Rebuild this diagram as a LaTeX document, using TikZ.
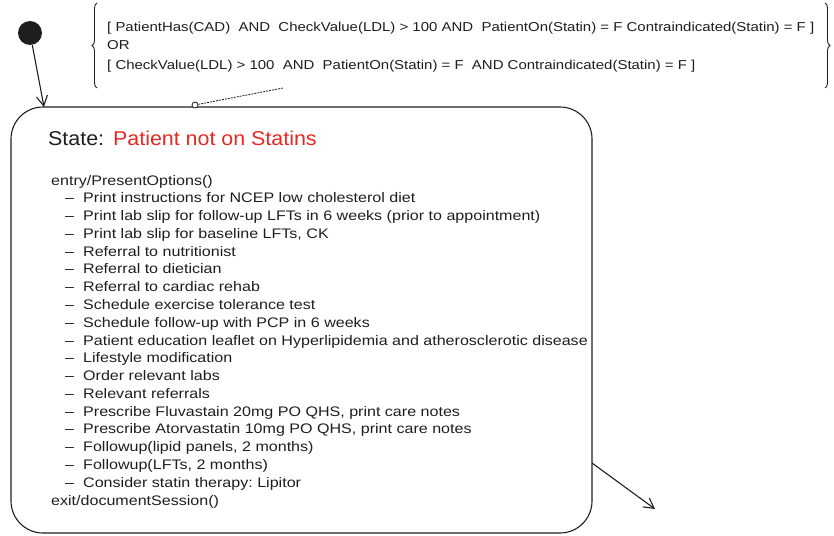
\documentclass[tikz,border=0pt]{standalone}
\usepackage{fontspec}
\setmainfont{Liberation Sans}
\newfontfamily\widefont[FakeStretch=1.16,Ligatures=TeX]{Liberation Sans}
\newfontfamily\titlefont[FakeStretch=1.07,Ligatures=TeX]{Liberation Sans}
\usetikzlibrary{arrows.meta,decorations.pathreplacing}
\definecolor{titlered}{RGB}{230,40,35}
\definecolor{ink}{RGB}{30,30,30}
\begin{document}
\frenchspacing
\begin{tikzpicture}[x=1pt,y=-1pt,
  line/.style={draw=ink,line width=1.1pt},
  guard/.style={anchor=base west,inner sep=0pt,font=\widefont\fontsize{12.9}{14}\selectfont,text=ink},
  body/.style={anchor=base west,inner sep=0pt,font=\widefont\fontsize{13.85}{16}\selectfont,text=ink},
  heading/.style={anchor=base west,inner sep=0pt,font=\titlefont\fontsize{20}{22}\selectfont},
  open/.style={-{Straight Barb[length=10pt,width=11pt]}}]
\useasboundingbox (0,0) rectangle (834,535);

% initial pseudo-state
\node[circle,fill=ink,inner sep=0pt,minimum size=24pt] (init) at (30,33) {};

% the state box
\node[line,rounded corners=32pt,minimum width=581pt,minimum height=426pt,inner sep=0pt] (state) at (301.5,320) {};
\coordinate (entry) at (44,107);
\coordinate (exit) at (592,463);
\coordinate (exitend) at (655,509);

\draw[line,open] (init) -- (entry);
\draw[line,open] (exit) -- (exitend);

% guard condition with braces
\node[guard] (g1) at (107,32) {[ PatientHas(CAD)\ \ AND\ \ CheckValue(LDL) > 100 AND\ \ PatientOn(Statin) = F Contraindicated(Statin) = F ]};
\node[guard] (g2) at (107,49) {OR};
\node[guard] (g3) at (107,69) {[ CheckValue(LDL) > 100\ \ AND\ \ PatientOn(Statin) = F\ \ AND Contraindicated(Statin) = F ]};
\draw[ink,line width=0.9pt,decorate,decoration={brace,amplitude=5pt}] (97,88) -- (97,3);
\draw[ink,line width=0.9pt,decorate,decoration={brace,amplitude=5pt}] (825,3) -- (825,88);

% anchor of the guard note
\node[circle,draw=ink,line width=0.8pt,fill=white,inner sep=0pt,minimum size=6pt] (pin) at (195,105) {};
\coordinate (noteend) at (283,88);
\draw[ink,line width=0.8pt,dash pattern=on 2pt off 1pt] (pin) -- (noteend);

% title
\node[heading,text=ink] (title) at (48,145) {State:};
\node[heading,text=titlered] (name) at (113,145) {Patient not on Statins};

% activities
\node[body] (en) at (51,185) {entry/PresentOptions()};
\foreach \t [count=\i] in {
  Print instructions for NCEP low cholesterol diet,
  Print lab slip for follow-up LFTs in 6 weeks (prior to appointment),
  {Print lab slip for baseline LFTs, CK},
  Referral to nutritionist,
  Referral to dietician,
  Referral to cardiac rehab,
  Schedule exercise tolerance test,
  Schedule follow-up with PCP in 6 weeks,
  Patient education leaflet on Hyperlipidemia and atherosclerotic disease,
  Lifestyle modification,
  Order relevant labs,
  Relevant referrals,
  {Prescribe Fluvastain 20mg PO QHS, print care notes},
  {Prescribe Atorvastatin 10mg PO QHS, print care notes},
  {Followup(lipid panels, 2 months)},
  {Followup(LFTs, 2 months)},
  Consider statin therapy: Lipitor}
{
  \node[body] (d\i) at (65,185+\i*17.78) {\textendash};
  \node[body] (a\i) at (83,185+\i*17.78) {\t};
}
\node[body] (ex) at (51,505) {exit/documentSession()};
\end{tikzpicture}
\end{document}
